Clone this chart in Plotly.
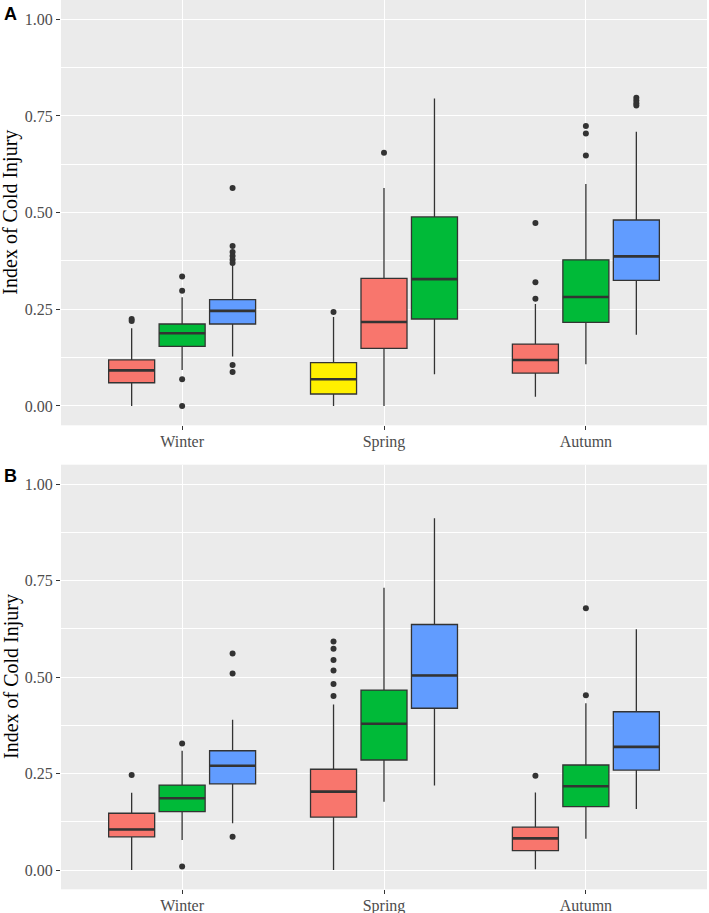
import plotly.graph_objects as go

# ---------------- data ----------------
seasons = ["Winter", "Spring", "Autumn"]
season_idx = [1, 1, 1, 2, 2, 2, 3, 3, 3]
slot = [0, 1, 2, 0, 1, 2, 0, 1, 2]

RED, GREEN, BLUE, YELLOW = "#F8766D", "#00BA38", "#619CFF", "#FFF000"

# Panel A
A_fill = [RED, GREEN, BLUE, YELLOW, RED, GREEN, RED, GREEN, BLUE]
A_q1 = [0.060, 0.154, 0.212, 0.031, 0.149, 0.225, 0.085, 0.216, 0.325]
A_med = [0.092, 0.188, 0.246, 0.069, 0.217, 0.328, 0.119, 0.282, 0.387]
A_q3 = [0.119, 0.212, 0.275, 0.112, 0.330, 0.489, 0.160, 0.378, 0.481]
A_lo = [0.000, 0.093, 0.128, 0.000, 0.000, 0.082, 0.024, 0.108, 0.184]
A_hi = [0.201, 0.281, 0.365, 0.230, 0.564, 0.795, 0.264, 0.574, 0.709]
A_out = [
    [0.225, 0.220],
    [0.335, 0.298, 0.069, 0.000],
    [0.564, 0.414, 0.398, 0.388, 0.378, 0.370, 0.106, 0.088],
    [0.243],
    [0.655],
    [],
    [0.473, 0.320, 0.277],
    [0.724, 0.705, 0.648],
    [0.797, 0.790, 0.783, 0.777],
]

# Panel B
B_fill = [RED, GREEN, BLUE, RED, GREEN, BLUE, RED, GREEN, BLUE]
B_q1 = [0.086, 0.151, 0.223, 0.137, 0.285, 0.419, 0.050, 0.164, 0.259]
B_med = [0.105, 0.186, 0.270, 0.203, 0.379, 0.504, 0.082, 0.217, 0.319]
B_q3 = [0.147, 0.220, 0.309, 0.261, 0.466, 0.636, 0.111, 0.272, 0.410]
B_lo = [0.000, 0.078, 0.121, 0.000, 0.177, 0.219, 0.002, 0.081, 0.158]
B_hi = [0.200, 0.309, 0.389, 0.429, 0.731, 0.911, 0.201, 0.432, 0.624]
B_out = [
    [0.246],
    [0.328, 0.009],
    [0.561, 0.509, 0.086],
    [0.592, 0.573, 0.544, 0.517, 0.482, 0.451],
    [],
    [],
    [0.244],
    [0.678, 0.453],
    [],
]

y_ticks = [0, 0.25, 0.5, 0.75, 1.0]
y_ticktext = ["0.00", "0.25", "0.50", "0.75", "1.00"]
y_title = "Index of Cold Injury"

# ---------------- figure ----------------
DODGE = 0.25
BOXW = 0.228
LINE = "#333333"
fig = go.Figure()


def add_panel(fill, q1, med, q3, lo, hi, out, xa, ya):
    mx, my = [], []
    ox, oy = [], []
    for i in range(len(fill)):
        p = season_idx[i] + (slot[i] - 1) * DODGE
        fig.add_trace(go.Box(
            x=[p], q1=[q1[i]], median=[med[i]], q3=[q3[i]],
            lowerfence=[lo[i]], upperfence=[hi[i]],
            width=BOXW, fillcolor=fill[i],
            line=dict(color=LINE, width=1.3), whiskerwidth=0,
            boxpoints=False, showlegend=False, hoverinfo="skip",
            xaxis=xa, yaxis=ya,
        ))
        mx += [p - BOXW / 2, p + BOXW / 2, None]
        my += [med[i], med[i], None]
        for v in out[i]:
            ox.append(p)
            oy.append(v)
    fig.add_trace(go.Scatter(x=mx, y=my, mode="lines",
                             line=dict(color=LINE, width=2.6),
                             showlegend=False, hoverinfo="skip",
                             xaxis=xa, yaxis=ya))
    fig.add_trace(go.Scatter(x=ox, y=oy, mode="markers",
                             marker=dict(color=LINE, size=6),
                             showlegend=False, hoverinfo="skip",
                             xaxis=xa, yaxis=ya))


add_panel(A_fill, A_q1, A_med, A_q3, A_lo, A_hi, A_out, "x", "y")
add_panel(B_fill, B_q1, B_med, B_q3, B_lo, B_hi, B_out, "x2", "y2")

W, H = 709, 913
xdom = [61 / W, 707 / W]
ydomA = [(H - 425.3) / H, 1.0]
ydomB = [(H - 889.3) / H, (H - 464.7) / H]

tickfont = dict(family="Liberation Serif, Times New Roman, serif", size=16, color="#4D4D4D")
minor = dict(tickvals=[0.125, 0.375, 0.625, 0.875], showgrid=True,
             gridcolor="white", gridwidth=0.6, ticks="")

xcommon = dict(range=[0.4, 3.6], domain=xdom, tickvals=[1, 2, 3], ticktext=seasons,
               showgrid=True, gridcolor="white", gridwidth=1.2, zeroline=False,
               ticks="outside", ticklen=4, tickcolor=LINE, tickwidth=1.1,
               tickfont=tickfont, showline=False, automargin=False, fixedrange=True,
               ticklabelstandoff=-3)
ycommon = dict(range=[-0.05, 1.05], tickvals=y_ticks, ticktext=y_ticktext,
               showgrid=True, gridcolor="white", gridwidth=1.2, zeroline=False,
               ticks="outside", ticklen=4, tickcolor=LINE, tickwidth=1.1,
               tickfont=tickfont, minor=minor, showline=False, automargin=False,
               fixedrange=True)

fig.update_layout(
    width=W, height=H, margin=dict(l=0, r=0, t=0, b=0),
    paper_bgcolor="white", plot_bgcolor="#EBEBEB",
    boxmode="overlay", showlegend=False,
    xaxis=dict(**xcommon, anchor="y"),
    yaxis=dict(**ycommon, domain=ydomA, anchor="x"),
    xaxis2=dict(**xcommon, anchor="y2"),
    yaxis2=dict(**ycommon, domain=ydomB, anchor="x2"),
)

titlefont = dict(family="Liberation Serif, Times New Roman, serif", size=20, color="black")
for ymid in [(ydomA[0] + ydomA[1]) / 2, (ydomB[0] + ydomB[1]) / 2]:
    fig.add_annotation(x=11 / W, y=ymid, xref="paper", yref="paper", text=y_title,
                       textangle=-90, showarrow=False, font=titlefont,
                       xanchor="center", yanchor="middle")

labfont = dict(family="Liberation Sans, Arial, sans-serif", size=18, color="black")
fig.add_annotation(x=2 / W, y=1 - 2 / H, xref="paper", yref="paper", text="<b>A</b>",
                   showarrow=False, font=labfont, xanchor="left", yanchor="top")
fig.add_annotation(x=2 / W, y=1 - 464 / H, xref="paper", yref="paper", text="<b>B</b>",
                   showarrow=False, font=labfont, xanchor="left", yanchor="top")

fig.write_html("out.html")
